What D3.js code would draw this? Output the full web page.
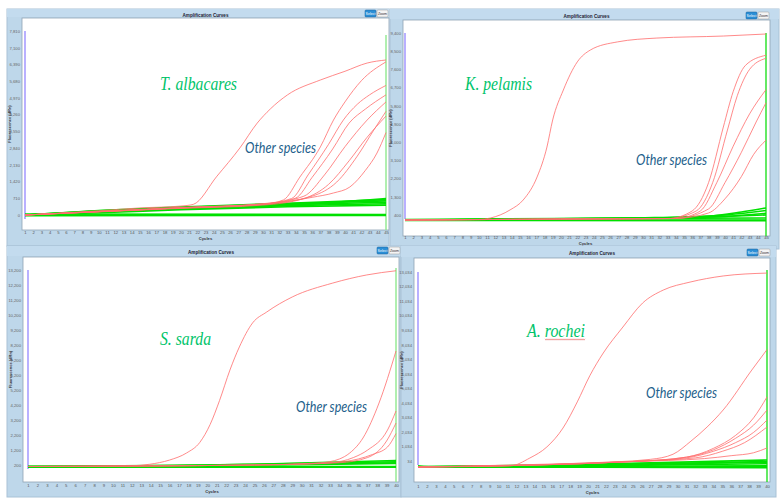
<!DOCTYPE html>
<html><head><meta charset="utf-8">
<script src="https://cdn.jsdelivr.net/npm/d3@7"></script>
<style>body{margin:0;background:#fff}svg{display:block}</style>
</head><body><svg id="c" width="780" height="500"></svg>
<script>
// ---------------- DATA ----------------
// Panel 1: T. albacares (45 cycles)
const p1Cycles = 45;
const p1YTicks = [0,710,1420,2130,2840,3550,4260,4970,5680,6390,7100,7810];
const p1Target = [[1,0],[10,180],[15,300],[20,380],[21.5,450],[24.4,1650],[27.2,2850],[29.3,3900],[30.9,4500],[33,5100],[37,5730],[40,6100],[42.7,6450],[45,6580]];
const p1Others = [
  [[1,0],[20,300],[30,450],[32.5,640],[34.5,1610],[37,2890],[38.6,4030],[40,4800],[42,5700],[45,6500]],
  [[1,0],[20,320],[30,480],[33.5,700],[35.5,1700],[38,3000],[39.8,4030],[41.5,4700],[43,5100],[45,5500]],
  [[1,0],[20,300],[30,460],[34,720],[36,1600],[38.5,2800],[40.5,3900],[42.5,4500],[45,5100]],
  [[1,0],[20,310],[30,470],[35,800],[37.5,1700],[40,2900],[42.7,4030],[45,4800]],
  [[1,0],[20,280],[30,420],[35,700],[38,1300],[40.5,2300],[42.7,3300],[45,4200]],
  [[1,0],[20,300],[30,450],[36,750],[38.6,935],[40.6,1190],[42.5,1900],[43.9,2630],[45,3500]],
  [[1,0],[20,300],[30,460],[36,800],[39,1400],[41.5,2500],[43.5,3600],[45,4400]]
];
const p1Negatives = [
  [[1,0],[45,0]],[[1,40],[45,20]],[[1,-30],[45,-20]],
  [[1,0],[10,100],[20,220],[33,350],[45,420]],
  [[1,0],[10,130],[20,260],[33,400],[45,480]],
  [[1,0],[10,150],[20,300],[33,440],[45,540]],
  [[1,0],[10,170],[20,320],[33,480],[45,600]],
  [[1,0],[10,190],[20,340],[33,500],[45,650]],
  [[1,0],[10,180],[20,300],[33,420],[45,700]]
];

// Panel 2: K. pelamis (45 cycles)
const p2Cycles = 45;
const p2YTicks = [400,1300,2200,3100,4000,4900,5800,6700,7600,8500,9400];
const p2Target = [[1,150],[10,180],[11.4,250],[13.8,650],[15.4,1140],[17.1,2280],[18.3,3760],[19,5100],[20.3,6580],[22,7970],[23.6,8560],[26.9,8960],[31.7,9150],[39.8,9250],[45,9350]];
const p2Others = [
  [[1,150],[20,200],[33,220],[36,600],[38,2000],[39.8,4750],[41,6500],[42.5,7800],[45,8300]],
  [[1,150],[20,200],[33,220],[36.5,600],[38.5,2000],[40.3,4600],[41.5,6300],[43,7600],[45,8150]],
  [[1,150],[20,200],[34,230],[37,600],[39,2000],[41,3800],[43,5400],[45,6600]],
  [[1,150],[20,200],[34,230],[38,700],[40,2000],[42,3500],[43.8,5000],[45,5950]],
  [[1,150],[20,200],[34,230],[38,500],[40,1200],[42,2300],[43.5,3400],[45,4100]]
];
const p2Negatives = [
  [[1,150],[45,150]],[[1,180],[20,220],[45,250]],[[1,130],[45,120]],
  [[1,150],[30,250],[38,300],[45,400]],
  [[1,150],[30,260],[38,350],[42,550],[45,750]],
  [[1,160],[30,240],[40,400],[45,620]],
  [[1,150],[30,230],[40,330],[45,480]]
];

// Panel 3: S. sarda (40 cycles)
const p3Cycles = 40;
const p3YTicks = [200,1200,2200,3200,4200,5200,6200,7200,8200,9200,10200,11200,12200,13200];
const p3Target = [[1,100],[12,150],[13.9,250],[16,530],[17.8,1000],[19.2,1700],[20.3,2900],[21.3,4500],[22.4,6530],[23.4,8070],[24.8,9670],[26.3,10400],[29,11400],[33.3,12330],[36.9,12870],[40,13150]];
const p3Others = [
  [[1,100],[25,200],[32,350],[34,600],[35.1,1000],[36.5,2000],[38.2,4330],[40,7800]],
  [[1,100],[25,200],[33,350],[35.5,700],[37,1200],[39.1,2530],[40,3800]],
  [[1,100],[25,200],[33,350],[36,600],[37.5,900],[39.1,1400],[40,2300]],
  [[1,100],[25,200],[34,350],[37,700],[39,1800],[40,3000]]
];
const p3Negatives = [
  [[1,50],[40,50]],[[1,100],[40,100]],
  [[1,100],[20,150],[40,300]],
  [[1,100],[20,200],[40,420]],
  [[1,80],[20,170],[40,350]],
  [[1,100],[25,250],[40,500]]
];

// Panel 4: A. rochei (40 cycles)
const p4Cycles = 40;
const p4YTicks = [34,1034,2034,3034,4034,5034,6034,7034,8034,9034,10034,11034,12034,13034];
const p4Target = [[1,-380],[11.3,-300],[13.5,240],[15.4,1000],[17.2,2300],[18.8,4100],[20.2,5900],[21.7,7460],[23.9,9250],[26.1,10900],[28.4,11790],[31.4,12340],[35.1,12760],[40,12960]];
const p4Others = [
  [[1,-380],[20,-100],[27,150],[29.5,500],[31.5,1400],[33.3,2370],[35.1,3540],[38.3,6290],[40,7700]],
  [[1,-380],[25,0],[31,300],[34,900],[36.5,1800],[38.5,3000],[40,4440]],
  [[1,-380],[25,0],[31,300],[34,800],[36.5,1600],[38.5,2500],[40,3540]],
  [[1,-380],[25,0],[31,250],[34,700],[36.5,1300],[38.5,2000],[40,2850]],
  [[1,-380],[25,0],[32,250],[35,700],[37.5,1300],[40,2370]],
  [[1,-380],[25,0],[33,200],[36,400],[38.5,600],[40,930]]
];
const p4Negatives = [
  [[1,-350],[40,-420]],[[1,-380],[40,-300]],
  [[1,-380],[20,-300],[40,-150]],
  [[1,-360],[20,-250],[40,0]],
  [[1,-380],[20,-200],[40,100]],
  [[1,-370],[20,-280],[40,-50]],
  [[1,-300],[3,-400],[40,-350]]
];

const speciesNames = ["T. albacares","K. pelamis","S. sarda","A. rochei"];
const otherLabel = "Other species";
const panelTitle = "Amplification Curves";

// ---------------- LAYOUT ----------------
const panels = [
  {frame:[7,9,382,237], plot:[22,18,367,212], xr:[25,386], yr:[215,31], gTop:35,
   cycles:p1Cycles, ticks:p1YTicks, target:p1Target, others:p1Others, neg:p1Negatives,
   xLabY:233, cycY:238, titleY:15, btnY:10, btnX:365, sp:[160,90,77], ot:[245,153], rightGreen:"#8fe88f"},
  {frame:[390,9,389,240], plot:[403,20,367,216], xr:[405,766], yr:[215,33], gTop:33,
   cycles:p2Cycles, ticks:p2YTicks, target:p2Target, others:p2Others, neg:p2Negatives,
   xLabY:238, cycY:243, titleY:16, btnY:12, btnX:746, sp:[465,90,67], ot:[636,165], rightGreen:"#22e022"},
  {frame:[7,246,394,251], plot:[23,257,376,225], xr:[28,396], yr:[465,270], gTop:268,
   cycles:p3Cycles, ticks:p3YTicks, target:p3Target, others:p3Others, neg:p3Negatives,
   xLabY:486, cycY:491, titleY:252, btnY:247, btnX:377, sp:[160,345,51], ot:[296,412], rightGreen:"#8fe88f"},
  {frame:[401,246,375,251], plot:[414,258,356,224], xr:[418,767], yr:[461,272], gTop:270,
   cycles:p4Cycles, ticks:p4YTicks, target:p4Target, others:p4Others, neg:p4Negatives,
   xLabY:487, cycY:492, titleY:253, btnY:249, btnX:747, sp:[527,337,58], ot:[646,398], rightGreen:"#22e022"}
];

const svg = d3.select("#c");
const fmt = d3.format(",");

panels.forEach((p,i)=>{
  const g = svg.append("g");
  const [fx,fy,fw,fh] = p.frame, [px,py,pw,ph] = p.plot;
  g.append("rect").attr("x",fx).attr("y",fy).attr("width",fw).attr("height",fh)
    .attr("fill","#bed7ea").attr("stroke","#a9c2d6").attr("stroke-width",1);
  g.append("rect").attr("x",fx).attr("y",fy).attr("width",fw).attr("height",py-fy-1)
    .attr("fill","#c3dbee");
  g.append("text").attr("x",px+pw/2).attr("y",p.titleY+2).attr("text-anchor","middle")
    .attr("font-family","Liberation Sans").attr("font-size",4.6).attr("font-weight","bold")
    .attr("fill","#223").text(panelTitle);
  // buttons
  g.append("rect").attr("x",p.btnX).attr("y",p.btnY).attr("width",11).attr("height",7).attr("rx",1)
    .attr("fill","#2b8fd6").attr("stroke","#1a5f96").attr("stroke-width",0.5);
  g.append("text").attr("x",p.btnX+5.5).attr("y",p.btnY+5).attr("text-anchor","middle")
    .attr("font-family","Liberation Sans").attr("font-size",3.6).attr("fill","#fff").text("Select");
  g.append("rect").attr("x",p.btnX+12).attr("y",p.btnY).attr("width",11).attr("height",7).attr("rx",1)
    .attr("fill","#f4f4f4").attr("stroke","#999").attr("stroke-width",0.5);
  g.append("text").attr("x",p.btnX+17.5).attr("y",p.btnY+5).attr("text-anchor","middle")
    .attr("font-family","Liberation Sans").attr("font-size",3.6).attr("fill","#333").text("Zoom");
  // plot area
  g.append("rect").attr("x",px).attr("y",py).attr("width",pw).attr("height",ph)
    .attr("fill","#fff").attr("stroke","#8fa3b5").attr("stroke-width",0.8);

  const x = d3.scaleLinear().domain([1,p.cycles]).range(p.xr);
  const y = d3.scaleLinear().domain([p.ticks[0],p.ticks[p.ticks.length-1]]).range(p.yr);

  // axes
  const ya = g.append("g").attr("transform",`translate(${px},0)`)
    .call(d3.axisLeft(y).tickValues(p.ticks).tickSize(0).tickPadding(2).tickFormat(fmt));
  ya.select(".domain").remove();
  ya.selectAll("text").attr("font-family","Liberation Sans").attr("font-size",4.2).attr("fill","#666");
  const xa = g.append("g").attr("transform",`translate(0,${p.xLabY-4})`)
    .call(d3.axisBottom(x).tickValues(d3.range(1,p.cycles+1)).tickSize(0).tickPadding(2).tickFormat(d3.format("d")));
  xa.select(".domain").remove();
  xa.selectAll("text").attr("font-family","Liberation Sans").attr("font-size",4.2).attr("fill","#555");
  g.append("text").attr("x",(p.xr[0]+p.xr[1])/2).attr("y",p.cycY+1.5).attr("text-anchor","middle")
    .attr("font-family","Liberation Sans").attr("font-size",4.2).attr("font-weight","bold").attr("fill","#333").text("Cycles");
  g.append("text").attr("transform",`translate(${px-11},${(py+ph/2)}) rotate(-90)`).attr("text-anchor","middle")
    .attr("font-family","Liberation Sans").attr("font-size",4).attr("font-weight","bold").attr("fill","#333")
    .text("Fluorescence (dRn)");

  // clip
  const cid = "clip"+i;
  svg.append("clipPath").attr("id",cid).append("rect").attr("x",px).attr("y",py).attr("width",pw).attr("height",ph);
  const pg = g.append("g").attr("clip-path",`url(#${cid})`);

  // marker lines at first and last cycle
  pg.append("line").attr("x1",x(1)).attr("x2",x(1)).attr("y1",p.yr[1]).attr("y2",p.yr[0]+4)
    .attr("stroke","#8a7cff").attr("stroke-width",1.2);
  pg.append("line").attr("x1",x(p.cycles)).attr("x2",x(p.cycles)).attr("y1",p.gTop).attr("y2",py+ph)
    .attr("stroke",p.rightGreen).attr("stroke-width",1.4);

  const line = d3.line().x(d=>x(d[0])).y(d=>y(d[1])).curve(d3.curveMonotoneX);
  pg.selectAll(".neg").data(p.neg).join("path").attr("d",line)
    .attr("fill","none").attr("stroke","#00e000").attr("stroke-width",1.6);
  pg.selectAll(".oth").data(p.others).join("path").attr("d",line)
    .attr("fill","none").attr("stroke","#ff6e6e").attr("stroke-width",0.9).attr("stroke-opacity",0.9);
  pg.append("path").datum(p.target).attr("d",line)
    .attr("fill","none").attr("stroke","#ff6e6e").attr("stroke-width",0.9).attr("stroke-opacity",0.9);

  // annotations
  g.append("text").attr("x",p.sp[0]).attr("y",p.sp[1]).attr("textLength",p.sp[2]).attr("lengthAdjust","spacingAndGlyphs")
    .attr("font-family","'Liberation Serif','Times New Roman',serif").attr("font-style","italic").attr("font-size",19)
    .attr("fill","#00c46a").text(speciesNames[i]);
  g.append("text").attr("x",p.ot[0]).attr("y",p.ot[1]).attr("textLength",71).attr("lengthAdjust","spacingAndGlyphs")
    .attr("font-family","Lato").attr("font-style","italic").attr("font-size",15.5)
    .attr("fill","#245f8c").text(otherLabel);
  if(i===3){
    const pts = d3.range(0,41).map(k=>[545+k, 339.5+(k%2?1:-1)*0.7]);
    g.append("path").attr("d",d3.line()(pts)).attr("fill","none").attr("stroke","#e03030").attr("stroke-width",0.45);
  }
});
</script>
</body></html>
